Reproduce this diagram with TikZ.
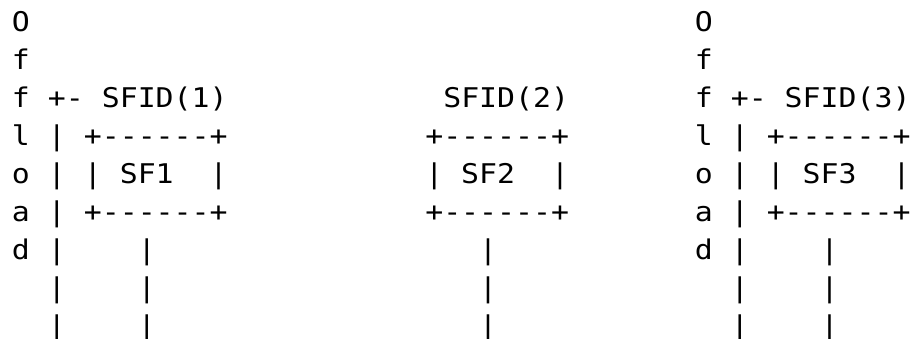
\documentclass[tikz,border=0pt]{standalone}
\usepackage{fontspec}
\newfontfamily\asciifont[FakeStretch=1.1]{DejaVu Sans Mono}
\tikzset{
  x=1pt, y=-1pt,
  art/.style={anchor=base west, inner sep=0pt, outer sep=0pt,
    font=\asciifont\fontsize{27.13}{38}\selectfont, text=black}
}
\begin{document}
\begin{tikzpicture}
\useasboundingbox[fill=white] (0,0) rectangle (914,339);
% column x: 12 + 17.97*c ; baselines: 32 + 38*r
% left group (col 0)
\node[art] (a0) at (12,32)  {O};
\node[art] (a1) at (12,70)  {f};
\node[art] (a2) at (12,108) {f~+-~SFID(1)};
\node[art] (a3) at (12,146) {l~|~+------+};
\node[art] (a4) at (12,184) {o~|~|~SF1~~|};
\node[art] (a5) at (12,222) {a~|~+------+};
\node[art] (a6) at (12,260) {d~|~~~~|};
\node[art] (a7) at (12,298) {~~|~~~~|};
\node[art] (a8) at (12,336) {~~|~~~~|};
% middle group
\node[art] (b2) at (443.3,108) {SFID(2)};
\node[art] (b3) at (425.3,146) {+------+};
\node[art] (b4) at (425.3,184) {|~SF2~~|};
\node[art] (b5) at (425.3,222) {+------+};
\node[art] (b6) at (479.2,260) {|};
\node[art] (b7) at (479.2,298) {|};
\node[art] (b8) at (479.2,336) {|};
% right group (col 38)
\node[art] (c0) at (694.9,32)  {O};
\node[art] (c1) at (694.9,70)  {f};
\node[art] (c2) at (694.9,108) {f~+-~SFID(3)};
\node[art] (c3) at (694.9,146) {l~|~+------+};
\node[art] (c4) at (694.9,184) {o~|~|~SF3~~|};
\node[art] (c5) at (694.9,222) {a~|~+------+};
\node[art] (c6) at (694.9,260) {d~|~~~~|};
\node[art] (c7) at (694.9,298) {~~|~~~~|};
\node[art] (c8) at (694.9,336) {~~|~~~~|};
\end{tikzpicture}
\end{document}
